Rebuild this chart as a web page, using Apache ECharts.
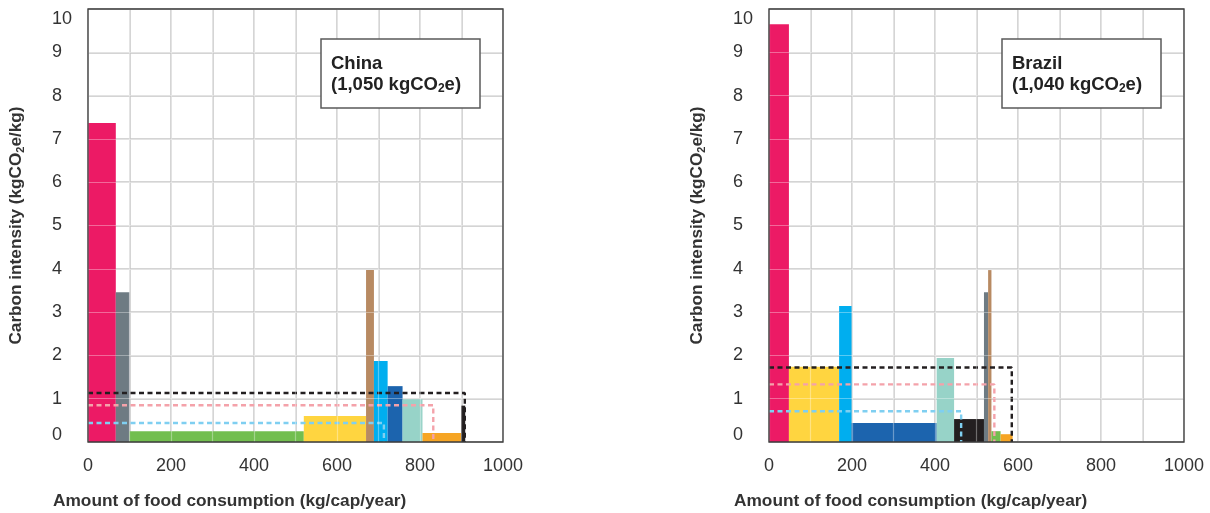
<!DOCTYPE html>
<html>
<head>
<meta charset="utf-8">
<title>Carbon intensity of food consumption</title>
<script src="https://cdn.jsdelivr.net/npm/echarts@6/dist/echarts.min.js"></script>
<style>
  html, body { margin: 0; padding: 0; background: #fff; }
  #chart { width: 1210px; height: 513px; }
</style>
</head>
<body>
<div id="chart"></div>
<script>
// Fill colour of each food group
const groupColors = {
  crimson: '#EC1A65',
  slate:   '#6E7B83',
  green:   '#72BE4F',
  yellow:  '#FFD540',
  tan:     '#B88A62',
  sky:     '#00AEEF',
  navy:    '#1C64AE',
  mint:    '#97D3C8',
  orange:  '#F6A524',
  black:   '#231F20'
};

// China: food groups in drawing order, amount (kg/cap/year), intensity (kgCO2e/kg)
const chinaGroups    = ['crimson', 'slate', 'green', 'yellow', 'tan', 'sky', 'navy', 'mint', 'orange', 'black'];
const chinaAmounts   = [67, 33, 420, 150, 19, 33, 36, 48, 93, 10];
const chinaIntensity = [7.37, 3.46, 0.25, 0.60, 3.97, 1.87, 1.29, 0.99, 0.21, 0.84];

// Brazil
const brazilGroups    = ['crimson', 'yellow', 'sky', 'navy', 'mint', 'black', 'slate', 'tan', 'green', 'orange'];
const brazilAmounts   = [48, 121, 30, 205, 42, 72, 10, 8, 22, 29];
const brazilIntensity = [9.65, 1.74, 3.14, 0.44, 1.94, 0.53, 3.46, 3.97, 0.25, 0.18];

// Dashed average frames: total amount and mean intensity
const frameColors          = ['#231F20', '#F4A2AA', '#7FCFF1'];
const chinaFrameAmounts    = [908, 832, 713];
const chinaFrameIntensity  = [1.13, 0.85, 0.44];
const brazilFrameAmounts   = [585, 543, 463];
const brazilFrameIntensity = [1.72, 1.33, 0.71];

// Panel headings
const countryNames  = ['China', 'Brazil'];
const countryTotals = ['1,050', '1,040'];

// Axis ticks
const xTicks = [0, 200, 400, 600, 800, 1000];
const yTicks = [0, 1, 2, 3, 4, 5, 6, 7, 8, 9, 10];

const FONT = "'Liberation Sans', Arial, Helvetica, sans-serif";
const TEXT = '#333333';

const panels = [
  { left: 88,  groups: chinaGroups,  amounts: chinaAmounts,  intensity: chinaIntensity,
    frameAmounts: chinaFrameAmounts,  frameIntensity: chinaFrameIntensity },
  { left: 769, groups: brazilGroups, amounts: brazilAmounts, intensity: brazilIntensity,
    frameAmounts: brazilFrameAmounts, frameIntensity: brazilFrameIntensity }
];
const GRID_W = 415, GRID_H = 433, GRID_TOP = 9;

function barData(groups, amounts, intensity) {
  let x = 0;
  return groups.map((g, i) => {
    const x0 = x;
    x += amounts[i];
    return { name: g, value: [x0, x, intensity[i]], itemStyle: { color: groupColors[g] } };
  });
}

function renderBar(params, api) {
  const top = api.coord([api.value(0), api.value(2)]);
  const bottom = api.coord([api.value(1), 0]);
  return {
    type: 'rect',
    shape: { x: top[0], y: top[1], width: bottom[0] - top[0], height: bottom[1] - top[1] },
    style: { fill: api.visual('color') }
  };
}

const grids = [], xAxes = [], yAxes = [], series = [], graphics = [];

panels.forEach((p, k) => {
  grids.push({
    left: p.left, top: GRID_TOP, width: GRID_W, height: GRID_H,
    show: true, borderColor: '#3d3d3d', borderWidth: 1.3, z: 10
  });

  // base axes: labels and grey grid lines under the bars
  xAxes.push({
    gridIndex: k, type: 'value', min: 0, max: 1000, interval: 100, position: 'bottom',
    axisLine: { show: false }, axisTick: { show: false },
    axisLabel: {
      margin: 15, color: TEXT, fontSize: 18, fontFamily: FONT,
      formatter: v => (xTicks.indexOf(v) >= 0 ? String(v) : '')
    },
    splitLine: { show: true, lineStyle: { color: '#c6c6c6', width: 1.5 } }
  });
  // overlay axes: faint light grid lines drawn over the bars
  xAxes.push({
    gridIndex: k, type: 'value', min: 0, max: 1000, interval: 100, position: 'bottom', z: 9,
    axisLine: { show: false }, axisTick: { show: false }, axisLabel: { show: false },
    splitLine: { show: true, lineStyle: { color: 'rgba(255,255,255,0.35)', width: 1.2 } }
  });
  yAxes.push({
    gridIndex: k, type: 'value', min: 0, max: 10, interval: 1,
    axisLine: { show: false }, axisTick: { show: false },
    axisLabel: {
      margin: 36, align: 'left', color: TEXT, fontSize: 18, fontFamily: FONT,
      lineHeight: 14, padding: [3, 0, 0, 0],
      verticalAlignMinLabel: 'bottom', verticalAlignMaxLabel: 'top',
      formatter: v => (yTicks.indexOf(v) >= 0 ? String(v) : '')
    },
    splitLine: { show: true, lineStyle: { color: '#c6c6c6', width: 1.5 } }
  });
  yAxes.push({
    gridIndex: k, type: 'value', min: 0, max: 10, interval: 1, z: 9,
    axisLine: { show: false }, axisTick: { show: false }, axisLabel: { show: false },
    splitLine: { show: true, lineStyle: { color: 'rgba(255,255,255,0.35)', width: 1.2 } }
  });

  series.push({
    type: 'custom',
    xAxisIndex: 2 * k, yAxisIndex: 2 * k,
    renderItem: renderBar,
    encode: { x: [0, 1], y: 2 },
    data: barData(p.groups, p.amounts, p.intensity),
    z: 2
  });

  p.frameAmounts.forEach((w, i) => {
    const h = p.frameIntensity[i];
    series.push({
      type: 'line',
      xAxisIndex: 2 * k, yAxisIndex: 2 * k,
      data: [[0, h], [w, h], [w, 0]],
      symbol: 'none',
      silent: true,
      lineStyle: { color: frameColors[i], width: 2.4, type: [5, 3.5] },
      z: 4 - i
    });
  });

  const cx = p.left;
  // y axis title
  graphics.push({
    type: 'text', x: cx - 72, y: GRID_TOP + GRID_H / 2, rotation: Math.PI / 2,
    style: {
      text: '{b|Carbon intensity (kgCO}{s|2}{b|e/kg)}',
      align: 'center', verticalAlign: 'middle',
      rich: {
        b: { fontSize: 17.2, fontWeight: 'bold', fontFamily: FONT, fill: TEXT, lineHeight: 20 },
        s: { fontSize: 11, fontWeight: 'bold', fontFamily: FONT, fill: TEXT, lineHeight: 9, verticalAlign: 'bottom' }
      }
    }
  });
  // x axis title
  graphics.push({
    type: 'text', x: cx - 35, y: 501,
    style: {
      text: 'Amount of food consumption (kg/cap/year)',
      align: 'left', verticalAlign: 'middle',
      fontSize: 17.3, fontWeight: 'bold', fontFamily: FONT, fill: TEXT
    }
  });
  // country heading box
  graphics.push({
    type: 'rect', x: cx + 233, y: 39,
    shape: { width: 159, height: 69 },
    style: { fill: '#ffffff', stroke: '#5a5a5a', lineWidth: 1.5 },
    z: 20
  });
  graphics.push({
    type: 'text', x: cx + 243, y: 53, z: 21,
    style: {
      text: '{b|' + countryNames[k] + '}\n{b|(' + countryTotals[k] + ' kgCO}{s|2}{b|e)}',
      align: 'left', verticalAlign: 'top',
      rich: {
        b: { fontSize: 18.5, fontWeight: 'bold', fontFamily: FONT, fill: '#222', lineHeight: 21 },
        s: { fontSize: 12, fontWeight: 'bold', fontFamily: FONT, fill: '#222', lineHeight: 9, verticalAlign: 'bottom' }
      }
    }
  });
});

const chart = echarts.init(document.getElementById('chart'));
chart.setOption({
  animation: false,
  backgroundColor: '#ffffff',
  grid: grids,
  xAxis: xAxes,
  yAxis: yAxes,
  series: series,
  graphic: graphics
});
</script>
</body>
</html>
